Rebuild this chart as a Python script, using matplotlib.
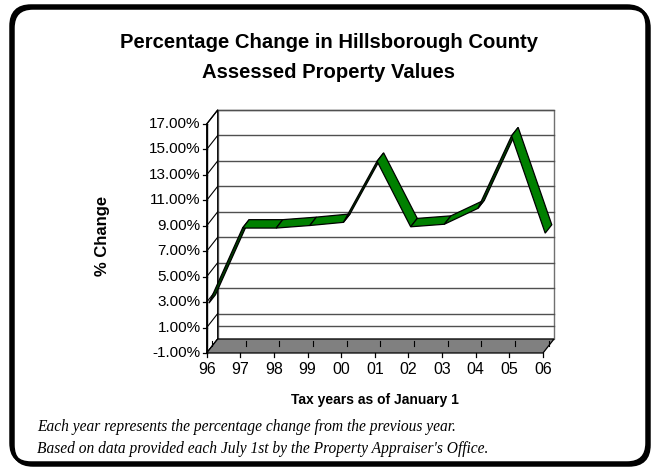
import matplotlib
matplotlib.use('Agg')
import matplotlib.pyplot as plt
from matplotlib.patches import Polygon, FancyBboxPatch
import numpy as np

years = ['96', '97', '98', '99', '00', '01', '02', '03', '04', '05', '06']
pct_change = [2.7, 8.6, 8.6, 8.8, 9.05, 13.85, 8.7, 8.9, 10.15, 15.85, 8.2]
y_ticks = np.arange(-1, 18, 2)

title1 = 'Percentage Change in Hillsborough County'
title2 = 'Assessed Property Values'
note1 = 'Each year represents the percentage change from the previous year.'
note2 = "Based on data provided each July 1st by the Property Appraiser's Office."

W, H = 655, 470
sans = 'Liberation Sans'
serif = 'Liberation Serif'

fig = plt.figure(figsize=(W / 100, H / 100), dpi=100)
fig.patch.set_facecolor('white')

# front plane of the plot box
ax = fig.add_axes([206.7 / W, 1 - 353 / H, (543 - 206.7) / W, 229 / H])
ax.set_xlim(0, 10)
ax.set_ylim(-1, 17)
ax.axis('off')

# pixels per unit, used for the 3d depth offset
px_x = (543 - 206.7) / 10
px_y = 229 / 18
DX = 11 / px_x
DY = 14 / px_y
ymin, ymax = -1, 17
n = len(years) - 1

# back wall
ax.add_patch(Polygon([(DX, ymin + DY), (n + DX, ymin + DY), (n + DX, ymax + DY), (DX, ymax + DY)],
                     closed=True, facecolor='white', edgecolor='#707070', lw=1, clip_on=False, zorder=1))
for t in list(y_ticks[1:]) + [0]:
    ax.plot([DX, n + DX], [t + DY, t + DY], color='#505050', lw=1, clip_on=False, zorder=2)

# left wall
ax.add_patch(Polygon([(0, ymin), (DX, ymin + DY), (DX, ymax + DY), (0, ymax)],
                     closed=True, facecolor='white', edgecolor='black', lw=0.9, clip_on=False, zorder=2))
for t in y_ticks:
    ax.plot([0, DX], [t, t + DY], color='black', lw=0.8, clip_on=False, zorder=2)
    ax.plot([-4 / px_x, 0], [t, t], color='black', lw=0.9, clip_on=False, zorder=3)
    ax.text(-6 / px_x, t, f'{t:.2f}%', ha='right', va='center', fontsize=11,
            family=sans, clip_on=False)
ax.plot([0, 0], [ymin, ymax], color='black', lw=1, clip_on=False, zorder=3)

# floor
ax.add_patch(Polygon([(0, ymin), (n, ymin), (n + DX, ymin + DY), (DX, ymin + DY)],
                     closed=True, facecolor='#808080', edgecolor='black', lw=0.9, clip_on=False, zorder=3))
for i, lab in enumerate(years):
    ax.plot([i + DX * 0.5, i + DX * 0.5], [ymin + DY * 0.5, ymin + DY * 0.5 + 5 / px_y],
            color='black', lw=0.8, clip_on=False, zorder=4)
    ax.plot([i, i], [ymin, ymin - 4 / px_y], color='black', lw=0.9, clip_on=False, zorder=4)
    ax.text(i, ymin - 17 / px_y, lab, ha='center', va='center', fontsize=11.5,
            family=sans, clip_on=False)

# ribbon line
f, b = 0.2, 0.8
for i in range(n):
    v0, v1 = pct_change[i], pct_change[i + 1]
    quad = [(i + f * DX, v0 + f * DY), (i + 1 + f * DX, v1 + f * DY),
            (i + 1 + b * DX, v1 + b * DY), (i + b * DX, v0 + b * DY)]
    # which side of the ribbon faces the viewer
    cross = px_x * (DY * px_y) - (v1 - v0) * px_y * (DX * px_x)
    face = '#008000' if cross > 0 else '#004000'
    ax.add_patch(Polygon(quad, closed=True, facecolor=face, edgecolor='black',
                         lw=0.9, clip_on=False, zorder=5 + i * 0.01))

# titles and notes
fig.text(329 / W, 1 - 42 / H, title1, ha='center', va='center', fontsize=14.6,
         fontweight='bold', family=sans)
fig.text(329 / W, 1 - 72 / H, title2, ha='center', va='center', fontsize=14.6,
         fontweight='bold', family=sans)
fig.text(103 / W, 1 - 236 / H, '% Change', ha='center', va='center', rotation=90,
         fontsize=12, fontweight='bold', family=sans)
fig.text(375 / W, 1 - 400 / H, 'Tax years as of January 1', ha='center', va='center',
         fontsize=10, fontweight='bold', family=sans)
fig.text(37 / W, 1 - 427 / H, note1, ha='left', va='center', fontsize=11.2,
         style='italic', family=serif)
fig.text(37 / W, 1 - 449 / H, note2, ha='left', va='center', fontsize=11.2,
         style='italic', family=serif)

# rounded frame with a small drop shadow
frame = dict(boxstyle='round,pad=0,rounding_size=20', transform=None,
             facecolor='none', lw=2.5)
fig.patches.append(FancyBboxPatch((13, 5), 636, 457, edgecolor='black', **frame))
fig.patches.append(FancyBboxPatch((11, 7), 636, 457, edgecolor='black', **frame))

fig.savefig('out.png', dpi=100)
